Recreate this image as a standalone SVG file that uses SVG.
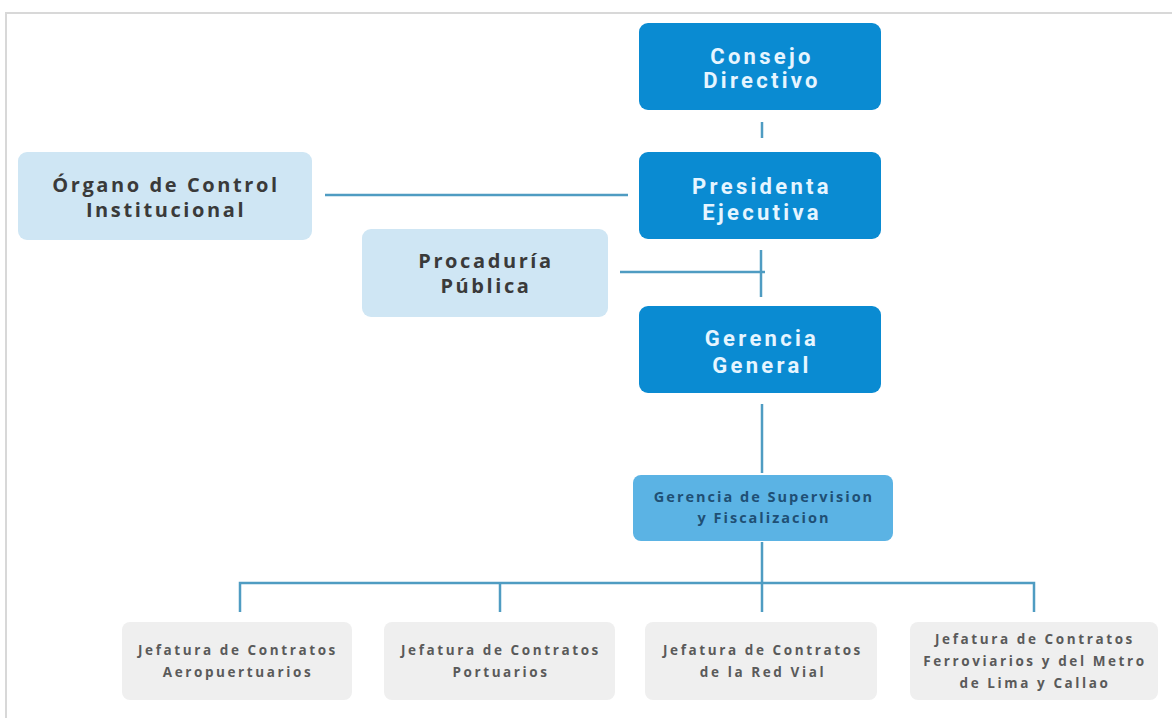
<svg xmlns="http://www.w3.org/2000/svg" width="1172" height="718" viewBox="0 0 1172 718">
<style>
.bg{fill:#ffffff}
.frame{fill:none;stroke:#d8d8d8;stroke-width:2}
.dark{fill:#0a8bd2}
.light{fill:#cfe6f4}
.mid{fill:#5bb3e4}
.grey{fill:#efefef}
.tw{font-family:Roboto,"Liberation Sans",sans-serif;font-weight:bold;fill:#e6f5ff;text-anchor:middle;font-size:22px;letter-spacing:3.3px}
.tg{font-family:"Open Sans","Liberation Sans",sans-serif;font-weight:bold;fill:#3a3a3a;text-anchor:middle;font-size:20px;letter-spacing:2.6px}
.tn{font-family:"Open Sans","Liberation Sans",sans-serif;font-weight:bold;fill:#1f4f74;text-anchor:middle;font-size:14.5px;letter-spacing:2px}
.ts{font-family:"Open Sans","Liberation Sans",sans-serif;font-weight:bold;fill:#5a5a5a;text-anchor:middle;font-size:13.5px;letter-spacing:2.6px}
.ln{stroke:#4f9cc2;stroke-width:2.5;fill:none}
</style>
<rect class="bg" x="0" y="0" width="1172" height="718"/>
<path class="frame" d="M6 730 V13 H1180"/>
<g id="connectors">
<line class="ln" x1="762" y1="122" x2="762" y2="138"/>
<line class="ln" x1="325" y1="195" x2="628" y2="195"/>
<line class="ln" x1="620" y1="272" x2="765" y2="272"/>
<line class="ln" x1="761" y1="250" x2="761" y2="297"/>
<line class="ln" x1="762" y1="404" x2="762" y2="473"/>
<line class="ln" x1="762" y1="542" x2="762" y2="583"/>
<polyline class="ln" points="240,612 240,583 1034,583 1034,612"/>
<line class="ln" x1="500" y1="583" x2="500" y2="612"/>
<line class="ln" x1="762" y1="583" x2="762" y2="612"/>
</g>
<g id="consejo">
<rect class="dark" x="639" y="23" width="242" height="87" rx="9"/>
<text class="tw" x="762" y="64">Consejo</text>
<text class="tw" x="762" y="88">Directivo</text>
</g>
<g id="presidenta">
<rect class="dark" x="639" y="152" width="242" height="87" rx="9"/>
<text class="tw" x="762" y="194">Presidenta</text>
<text class="tw" x="762" y="220">Ejecutiva</text>
</g>
<g id="organo">
<rect class="light" x="18" y="152" width="294" height="88" rx="9"/>
<text class="tg" x="166" y="192">Órgano de Control</text>
<text class="tg" x="166" y="217">Institucional</text>
</g>
<g id="procaduria">
<rect class="light" x="362" y="229" width="246" height="88" rx="9"/>
<text class="tg" x="486" y="268">Procaduría</text>
<text class="tg" x="486" y="293">Pública</text>
</g>
<g id="gerencia">
<rect class="dark" x="639" y="306" width="242" height="87" rx="9"/>
<text class="tw" x="762" y="346">Gerencia</text>
<text class="tw" x="762" y="373">General</text>
</g>
<g id="supervision">
<rect class="mid" x="633" y="475" width="260" height="66" rx="8"/>
<text class="tn" x="764" y="502">Gerencia de Supervision</text>
<text class="tn" x="764" y="523">y Fiscalizacion</text>
</g>
<g id="aero">
<rect class="grey" x="122" y="622" width="230" height="78" rx="8"/>
<text class="ts" x="238" y="655">Jefatura de Contratos</text>
<text class="ts" x="238" y="677">Aeropuertuarios</text>
</g>
<g id="portu">
<rect class="grey" x="384" y="622" width="231" height="78" rx="8"/>
<text class="ts" x="501" y="655">Jefatura de Contratos</text>
<text class="ts" x="501" y="677">Portuarios</text>
</g>
<g id="vial">
<rect class="grey" x="645" y="622" width="232" height="78" rx="8"/>
<text class="ts" x="763" y="655">Jefatura de Contratos</text>
<text class="ts" x="763" y="677">de la Red Vial</text>
</g>
<g id="ferro">
<rect class="grey" x="910" y="622" width="248" height="78" rx="8"/>
<text class="ts" x="1035" y="644">Jefatura de Contratos</text>
<text class="ts" x="1035" y="666">Ferroviarios y del Metro</text>
<text class="ts" x="1035" y="688">de Lima y Callao</text>
</g>
</svg>
